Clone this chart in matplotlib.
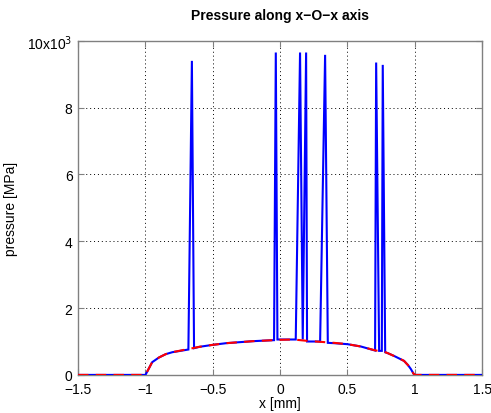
import matplotlib
matplotlib.use("Agg")
import matplotlib.pyplot as plt

plt.rcParams['font.family'] = ['Liberation Sans', 'DejaVu Sans']

# Smooth pressure profile (red dashed), values in MPa
base_x = [-1.5, -1.0, -0.98, -0.95, -0.9, -0.85, -0.8, -0.7, -0.6, -0.5, -0.4, -0.3,
          -0.2, -0.1, 0.0, 0.1, 0.2, 0.3, 0.4, 0.5, 0.6, 0.7, 0.78, 0.8, 0.85, 0.89,
          0.92, 0.95, 0.97, 0.99, 1.0, 1.5]
base_y = [0, 0, 150, 380, 520, 620, 680, 760, 840, 900, 950, 980,
          1010, 1030, 1050, 1060, 1020, 990, 960, 920, 850, 740, 680, 650, 560, 480,
          420, 290, 180, 40, 0, 0]

# Computed pressure with spikes (blue solid), values in MPa
blue_x = [-1.5, -1.0, -0.98, -0.95, -0.9, -0.85, -0.8, -0.681, -0.681, -0.655, -0.639, -0.639,
          -0.6, -0.5, -0.4, -0.3, -0.2, -0.1, -0.045, -0.045, -0.032, -0.02, -0.02,
          0.116, 0.116, 0.148, 0.168, 0.168, 0.193, 0.2, 0.2,
          0.297, 0.297, 0.334, 0.354, 0.354,
          0.4, 0.5, 0.6, 0.705, 0.705, 0.713, 0.735, 0.735, 0.755, 0.762, 0.78, 0.78,
          0.8, 0.85, 0.89, 0.92, 0.95, 0.97, 0.99, 1.0, 1.5]
blue_y = [0, 0, 150, 380, 520, 620, 680, 760, 760, 9400, 800, 800,
          840, 900, 950, 980, 1010, 1030, 1040, 1040, 9650, 1060, 1060,
          1060, 1060, 9650, 1060, 1060, 9650, 1000, 1000,
          1000, 1000, 9580, 960, 960,
          950, 920, 850, 730, 730, 9350, 720, 720, 720, 9280, 680, 680,
          650, 560, 480, 420, 290, 180, 40, 0, 0]

xticks = [-1.5, -1, -0.5, 0, 0.5, 1, 1.5]
xtick_labels = ['\u22121.5', '\u22121', '\u22120.5', '0', '0.5', '1', '1.5']
yticks = [0, 2000, 4000, 6000, 8000, 10000]
ytick_labels = ['0', '2', '4', '6', '8', '10x10$^3$']

fig = plt.figure(figsize=(4.91, 4.14), dpi=100)
ax = fig.add_axes([0.159, 0.092, 0.823, 0.807])

ax.plot(blue_x, blue_y, color='#0000ff', lw=1.5, solid_joinstyle='miter', zorder=3)
ax.plot(base_x, base_y, color='#ff0000', lw=1.5, dashes=(5, 3.5), zorder=4)

ax.set_xlim(-1.5, 1.5)
ax.set_ylim(0, 10000)
ax.set_xticks(xticks)
ax.set_xticklabels(xtick_labels)
ax.set_yticks(yticks)
ax.set_yticklabels(ytick_labels)
ax.tick_params(direction='in', top=True, right=True, labelsize=10, length=4,
               color='#808080')
ax.tick_params(axis='x', pad=5)
ax.tick_params(axis='y', pad=4)
for s in ax.spines.values():
    s.set_color('#808080')
    s.set_linewidth(1.0)
ax.grid(True, color='black', linestyle=(0, (1, 3)), linewidth=0.7)
ax.set_axisbelow(True)

ax.set_title('Pressure along x\u2212O\u2212x axis', fontsize=10, fontweight='bold', pad=16)
ax.set_xlabel('x [mm]', fontsize=10)
ax.xaxis.set_label_coords(0.5, -0.064)
ax.set_ylabel('pressure [MPa]', fontsize=10)
ax.yaxis.set_label_coords(-0.149, 0.5)

fig.savefig('out.png', dpi=100)
